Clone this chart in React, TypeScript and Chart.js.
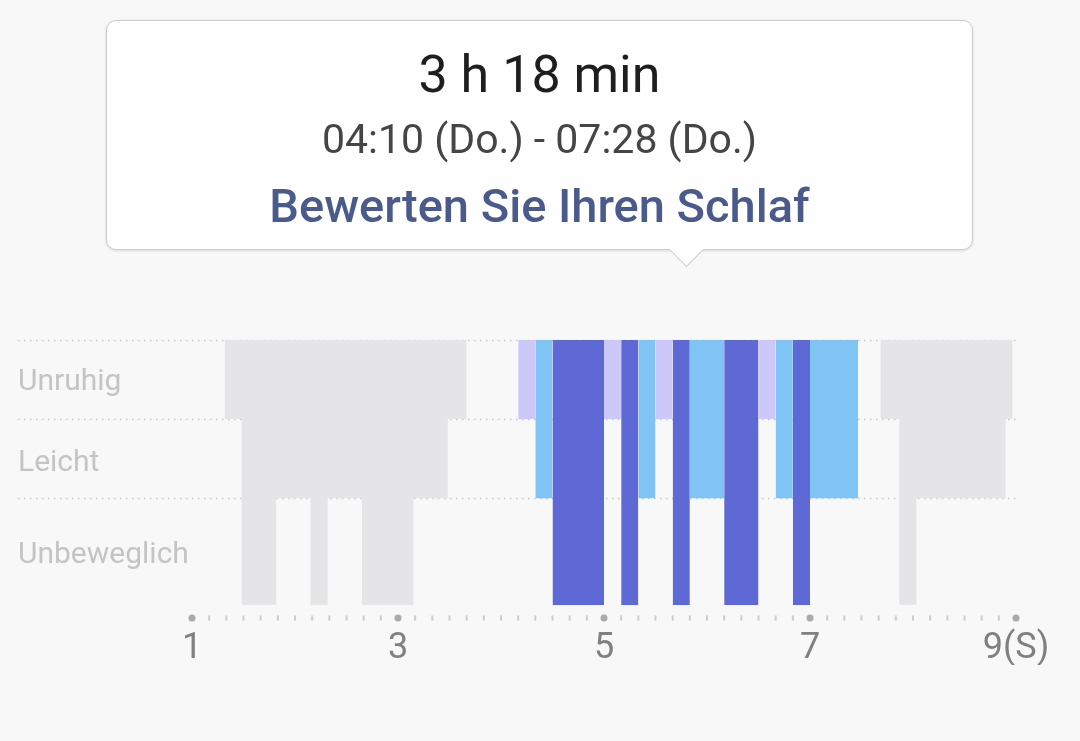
import React, { useEffect, useRef } from "react";
import { Chart, registerables } from "chart.js";

Chart.register(...registerables);

// ---- data ----
const STAGE_LABELS = ["Unruhig", "Leicht", "Unbeweglich"];
// depth (downwards from top of plot) at which each stage band ends
const STAGE_DEPTH = [1, 2, 3.35];
const STAGE_LABEL_POS = [0.54, 1.56, 2.73];
const STAGE_COLORS = ["#cdc8fa", "#80c4f6", "#5f69d6"];
const OTHER_COLOR = "#e5e5e7";

// selected sleep session (stage index: 0 Unruhig, 1 Leicht, 2 Unbeweglich)
const MAIN_STARTS = ["04:10", "04:20", "04:30", "05:00", "05:10", "05:20", "05:30", "05:40", "05:50", "06:10", "06:30", "06:40", "06:50", "07:00"];
const MAIN_STAGES = [0, 1, 2, 0, 2, 1, 0, 2, 1, 2, 0, 1, 2, 1];
const MAIN_END = "07:28";

// other sleep sessions (grey)
const OTHER1_STARTS = ["01:19", "01:29", "01:49", "02:09", "02:19", "02:39", "03:09", "03:29"];
const OTHER1_STAGES = [0, 2, 1, 2, 1, 2, 1, 0];
const OTHER1_END = "03:40";

const OTHER2_STARTS = ["07:41", "07:52", "08:02", "08:54"];
const OTHER2_STAGES = [0, 2, 1, 0];
const OTHER2_END = "08:58";

const X_MIN = 1;
const X_MAX = 9;
const X_LABEL_VALUES = [1, 3, 5, 7, 9];
const X_LABELS = ["1", "3", "5", "7", "9(S)"];

const TITLE = "3 h 18 min";
const SUBTITLE = "04:10 (Do.) - 07:28 (Do.)";
const ACTION = "Bewerten Sie Ihren Schlaf";

// ---- helpers ----
const toHours = (s: string) => {
  const [h, m] = s.split(":").map(Number);
  return h + m / 60;
};

function stepData(starts: string[], stages: number[], end: string) {
  const pts: { x: number; y: number | null }[] = starts.map((s, i) => ({
    x: toHours(s),
    y: STAGE_DEPTH[stages[i]],
  }));
  pts.push({ x: toHours(end), y: STAGE_DEPTH[stages[stages.length - 1]] });
  return pts;
}

function stageRects(starts: string[], stages: number[], end: string, stage: number) {
  const pts: { x: number; y: number | null }[] = [];
  starts.forEach((s, i) => {
    if (stages[i] !== stage) return;
    const e = i + 1 < starts.length ? starts[i + 1] : end;
    pts.push({ x: toHours(s), y: STAGE_DEPTH[stage] });
    pts.push({ x: toHours(e), y: STAGE_DEPTH[stage] });
    pts.push({ x: toHours(e), y: null });
  });
  return pts;
}

const xTickValues: number[] = [];
for (let m = X_MIN * 60; m <= X_MAX * 60; m += 10) xTickValues.push(m / 60);

const gridPlugin = {
  id: "bandGrid",
  beforeDatasetsDraw(chart: any) {
    const { ctx, chartArea } = chart;
    const y = chart.scales.y;
    ctx.save();
    ctx.strokeStyle = "#c6c6c6";
    ctx.lineWidth = 1.5;
    ctx.setLineDash([1.5, 4.5]);
    [0, STAGE_DEPTH[0], STAGE_DEPTH[1]].forEach((v) => {
      const py = Math.round(y.getPixelForValue(v)) + 0.5;
      ctx.beginPath();
      ctx.moveTo(y.left, py);
      ctx.lineTo(chartArea.right, py);
      ctx.stroke();
    });
    ctx.restore();
  },
};

const axisDotsPlugin = {
  id: "axisDots",
  afterDraw(chart: any) {
    const { ctx } = chart;
    const x = chart.scales.x;
    const py = x.top + 13;
    ctx.save();
    x.ticks.forEach((t: any) => {
      const px = x.getPixelForValue(t.value);
      if (t.label) {
        ctx.fillStyle = "#aaaaaa";
        ctx.beginPath();
        ctx.arc(px, py, 3.5, 0, Math.PI * 2);
        ctx.fill();
      } else {
        ctx.fillStyle = "#cccccc";
        ctx.fillRect(px - 1, py - 2.5, 2, 5);
      }
    });
    ctx.restore();
  },
};

export default function App() {
  const canvasRef = useRef<HTMLCanvasElement | null>(null);

  useEffect(() => {
    if (!canvasRef.current) return;
    const lineBase = {
      type: "line" as const,
      borderWidth: 0,
      pointRadius: 0,
      fill: "end",
    };
    const chart = new Chart(canvasRef.current, {
      type: "line",
      data: {
        datasets: [
          ...[0, 1, 2].map((st) => ({
            ...lineBase,
            label: STAGE_LABELS[st],
            data: stageRects(MAIN_STARTS, MAIN_STAGES, MAIN_END, st),
            backgroundColor: STAGE_COLORS[st],
            borderColor: STAGE_COLORS[st],
          })),
          {
            ...lineBase,
            label: "other1",
            data: stepData(OTHER1_STARTS, OTHER1_STAGES, OTHER1_END),
            stepped: true,
            backgroundColor: OTHER_COLOR,
            borderColor: OTHER_COLOR,
          },
          {
            ...lineBase,
            label: "other2",
            data: stepData(OTHER2_STARTS, OTHER2_STAGES, OTHER2_END),
            stepped: true,
            backgroundColor: OTHER_COLOR,
            borderColor: OTHER_COLOR,
          },
        ] as any,
      },
      options: {
        animation: false,
        responsive: true,
        maintainAspectRatio: false,
        events: [],
        layout: { padding: { top: 340, left: 18, right: 64, bottom: 76 } },
        plugins: { legend: { display: false }, tooltip: { enabled: false } },
        scales: {
          x: {
            type: "linear",
            min: X_MIN,
            max: X_MAX,
            grid: { display: false, drawTicks: false },
            border: { display: false },
            afterBuildTicks: (scale: any) => {
              scale.ticks = xTickValues.map((v) => ({ value: v }));
            },
            afterFit: (scale: any) => {
              scale.height = 60;
            },
            ticks: {
              autoSkip: false,
              maxRotation: 0,
              padding: 22,
              color: "#808080",
              font: { family: "Roboto", size: 36 },
              callback: (v: any) => {
                const i = X_LABEL_VALUES.findIndex((x) => Math.abs(x - Number(v)) < 1e-6);
                return i >= 0 ? X_LABELS[i] : "";
              },
            },
          },
          y: {
            type: "linear",
            reverse: true,
            min: 0,
            max: STAGE_DEPTH[2],
            grid: { display: false, drawTicks: false },
            border: { display: false },
            afterBuildTicks: (scale: any) => {
              scale.ticks = STAGE_LABEL_POS.map((v) => ({ value: v }));
            },
            afterFit: (scale: any) => {
              scale.width = 174;
            },
            ticks: {
              autoSkip: false,
              crossAlign: "far",
              padding: 0,
              color: "#c4c4c4",
              font: { family: "Roboto", size: 30 },
              callback: (_v: any, i: number) => STAGE_LABELS[i],
            },
          },
        },
      } as any,
      plugins: [gridPlugin, axisDotsPlugin],
    });
    return () => chart.destroy();
  }, []);

  return (
    <div
      style={{
        position: "fixed",
        left: 0,
        top: 0,
        width: 1080,
        height: 741,
        background: "#f8f8f8",
        fontFamily: "Roboto, sans-serif",
        overflow: "hidden",
      }}
    >
      <div style={{ position: "absolute", left: 0, top: 0, width: 1080, height: 741 }}>
        <canvas ref={canvasRef} />
      </div>
      <div
        style={{
          position: "absolute",
          left: 106,
          top: 20,
          width: 867,
          height: 230,
          boxSizing: "border-box",
          background: "#fefefe",
          border: "1.5px solid #cdcdcd",
          borderRadius: 10,
          boxShadow: "0 1px 3px rgba(0,0,0,0.12)",
        }}
      >
        <div
          style={{
            position: "absolute",
            left: 580 - 13,
            top: 230 - 14,
            width: 24,
            height: 24,
            background: "#fefefe",
            borderRight: "1.5px solid #cdcdcd",
            borderBottom: "1.5px solid #cdcdcd",
            transform: "rotate(45deg)",
          }}
        />
        <div style={{ position: "absolute", left: 0, right: 0, top: 24, height: 60, lineHeight: "60px", textAlign: "center", fontSize: 52, color: "#1e1e1e" }}>
          {TITLE}
        </div>
        <div style={{ position: "absolute", left: 0, right: 0, top: 94, height: 48, lineHeight: "48px", textAlign: "center", fontSize: 41, color: "#454545" }}>
          {SUBTITLE}
        </div>
        <div style={{ position: "absolute", left: 0, right: 0, top: 157, height: 56, lineHeight: "56px", textAlign: "center", fontSize: 47, fontWeight: 500, color: "#4b5a8c" }}>
          {ACTION}
        </div>
      </div>
    </div>
  );
}
